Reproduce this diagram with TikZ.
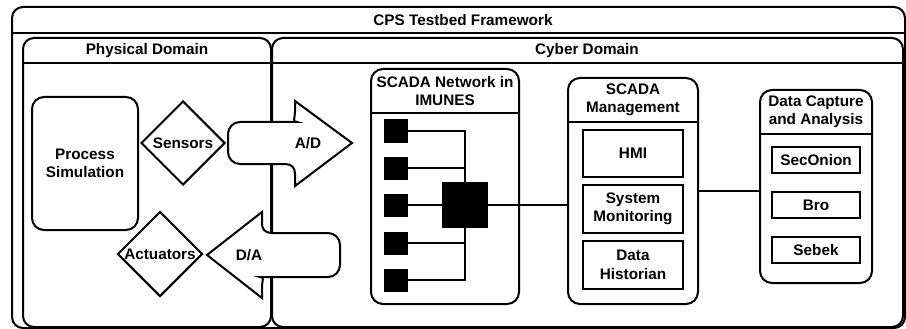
\documentclass[tikz,border=0pt]{standalone}
\usepackage{fontspec}
\setmainfont{Liberation Sans}
\usetikzlibrary{shapes.geometric, positioning}

\tikzset{
  panel/.style={draw, rounded corners=11pt, line width=2pt, inner sep=0pt},
  itembox/.style={draw, line width=2pt, inner sep=0pt, minimum width=100pt, minimum height=48pt},
  probe/.style={draw, diamond, line width=2pt, inner sep=0pt, minimum width=85pt, minimum height=85pt},
  hostsq/.style={fill=black, inner sep=0pt, minimum width=24pt, minimum height=23pt},
  wire/.style={line width=1.4pt},
  conv/.style={draw, fill=white, line width=2pt},
}

\begin{document}
\begin{tikzpicture}[x=1pt, y=-1pt,
  every node/.style={font=\fontsize{15.3}{18.4}\selectfont\bfseries, align=center}]

  \useasboundingbox (0,0) rectangle (906,329); % page size

  % Outer frame
  \node (cps) [panel, minimum width=893pt, minimum height=321pt] at (458.5,167.5) {};
  \node (cpstitle) at (463,20) {CPS Testbed Framework};
  \draw[line width=2pt] (cps.west |- 0,33) -- (cps.east |- 0,33);

  % Domains
  \node (phys) [panel, minimum width=248pt, minimum height=289pt] at (147,182.5) {};
  \node (physt) at (147,51) {Physical Domain};
  \draw[line width=2pt] (phys.west |- 0,63) -- (phys.east |- 0,63);
  \node (cyber) [panel, minimum width=631pt, minimum height=289pt] at (587.5,182.5) {};
  \node (cybert) at (587,51) {Cyber Domain};
  \draw[line width=2pt] (cyber.west |- 0,63) -- (cyber.east |- 0,63);

  % Physical side
  \node (proc) [panel, rounded corners=12pt, minimum width=106pt, minimum height=133pt] at (85,163.5) {Process\\Simulation};
  \node (sens) [probe, minimum width=84pt, minimum height=84pt] at (183,143) {Sensors};
  \node (act) [probe] at (160,254) {Actuators};

  % Converters
  \draw[conv] (285,122) .. controls (292,122) and (295,118) .. (295,112) -- (295,101) -- (352,143)
    -- (295,186) -- (295,174) .. controls (295,168) and (292,164) .. (285,164)
    [rounded corners=12pt] -- (228,164) -- (228,122) -- cycle; % A/D arrow
  \node (ad) at (308,143) {A/D};
  \draw[conv] (262,212) -- (262,224) .. controls (262,229) and (265,233) .. (272,233)
    [rounded corners=12pt] -- (340,233) -- (340,277) -- (272,277) [sharp corners]
    .. controls (265,277) and (262,281) .. (262,286) -- (262,298) -- (207,255) -- cycle; % D/A arrow
  \node (da) at (249,255) {D/A};

  % SCADA network
  \node (net) [panel, rounded corners=12pt, minimum width=148pt, minimum height=235pt] at (445,186.5) {};
  \node (nett) at (445,91) {SCADA Network in\\IMUNES};
  \draw[line width=2pt] (net.west |- 0,113) -- (net.east |- 0,113);
  \foreach \i/\y in {1/131, 2/168, 3/205, 4/243, 5/280}
    \node (host\i) [hostsq] at (396,\y) {};
  \node (router) [hostsq, minimum width=46pt, minimum height=46pt] at (465,205) {};
  \draw[wire] (host1) -| (router);
  \draw[wire] (host2.east) -- (host2.east -| router.north);
  \draw[wire] (host3) -- (router);
  \draw[wire] (host4.east) -- (host4.east -| router.south);
  \draw[wire] (host5) -| (router);

  % SCADA management
  \node (mgmt) [panel, rounded corners=12pt, minimum width=130pt, minimum height=226pt] at (633,191) {};
  \node (mgmtt) at (633,99.5) {SCADA\\Management};
  \draw[line width=2pt] (mgmt.west |- 0,122) -- (mgmt.east |- 0,122);
  \node (hmi) [itembox, minimum height=47pt] at (633,153.5) {HMI};
  \node (sysmon) [itembox, below=6pt of hmi] {System\\Monitoring};
  \node (hist) [itembox, below=6pt of sysmon] {Data\\Historian};

  % Data capture
  \node (cap) [panel, rounded corners=12pt, minimum width=112pt, minimum height=193pt] at (816,186.5) {};
  \node (capt) at (816,112) {Data Capture\\and Analysis};
  \draw[line width=2pt] (cap.west |- 0,134) -- (cap.east |- 0,134);
  \node (sec) [itembox, minimum width=88pt, minimum height=26pt] at (816,160) {SecOnion};
  \node (bro) [itembox, minimum width=88pt, minimum height=26pt, below=17pt of sec] {Bro};
  \node (sebek) [itembox, minimum width=88pt, minimum height=26pt, below=17pt of bro] {Sebek};

  % Links
  \draw[wire] (router.east) -- (router.east -| mgmt.west);
  \draw[wire] (mgmt.east) -- (mgmt.east -| cap.west);

\end{tikzpicture}
\end{document}
